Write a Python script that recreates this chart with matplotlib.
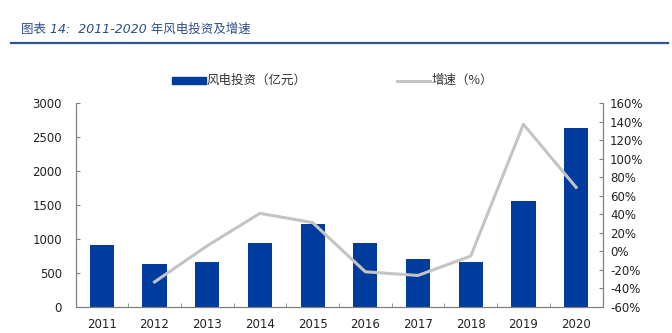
import matplotlib
matplotlib.use("Agg")
import matplotlib.pyplot as plt
from matplotlib.ticker import FuncFormatter, MultipleLocator, FixedLocator
from matplotlib.patches import Rectangle
from matplotlib.lines import Line2D
import numpy as np

plt.rcParams['font.family'] = ['DejaVu Sans', 'Noto Sans CJK SC']

years = ['2011', '2012', '2013', '2014', '2015', '2016', '2017', '2018', '2019', '2020']
investment = [910, 630, 669, 937, 1225, 947, 703, 663, 1557, 2635]
growth_years = ['2012', '2013', '2014', '2015', '2016', '2017', '2018', '2019', '2020']
growth = [-33, 6, 41, 31, -22, -26, -5, 137, 69]

title = '图表 14:  2011-2020 年风电投资及增速'
bar_label = '风电投资（亿元）'
line_label = '增速（%）'

bar_color = '#003C9E'
line_color = '#C4C4C4'
axis_color = '#7F7F7F'

fig = plt.figure(figsize=(6.72, 3.33), dpi=100)
W, H = 672, 333
left, right, bottom, top = 76, 603, 307, 103
ax = fig.add_axes([left / W, 1 - bottom / H, (right - left) / W, (bottom - top) / H])
ax2 = ax.twinx()

x = np.arange(len(years))
ax.bar(x, investment, width=0.46, color=bar_color, zorder=2)
gx = [years.index(y) for y in growth_years]
ax2.plot(gx, growth, color=line_color, lw=2.2, zorder=3)

ax.set_xlim(-0.49, len(years) - 0.49)
ax.set_ylim(0, 3000)
ax.yaxis.set_major_locator(MultipleLocator(500))
ax2.set_ylim(-60, 160)
ax2.yaxis.set_major_locator(MultipleLocator(20))
ax2.yaxis.set_major_formatter(FuncFormatter(lambda v, p: f'{int(round(v))}%'))

ax.set_xticks(x)
ax.set_xticklabels(years)
ax.xaxis.set_minor_locator(FixedLocator(np.arange(len(years) - 1) + 0.5))
ax.tick_params(axis='x', which='major', length=0, labelsize=8.5, pad=8, colors='#222222')
ax.tick_params(axis='x', which='minor', length=3, direction='in', color=axis_color)
ax.tick_params(axis='y', length=3, direction='in', color=axis_color, labelsize=8.5, labelcolor='#222222', pad=10)
ax2.tick_params(axis='y', length=3, direction='in', color=axis_color, labelsize=8.5, labelcolor='#222222', pad=5)

for a in (ax, ax2):
    a.spines['top'].set_visible(False)
    for s in ('left', 'right', 'bottom'):
        a.spines[s].set_color(axis_color)
        a.spines[s].set_linewidth(0.8)

ax.set_zorder(1)
ax2.set_zorder(2)
ax.patch.set_visible(False)

# Legend (manual placement)
fig.patches.append(Rectangle((172 / W, 1 - 84.2 / H), 34 / W, 7.5 / H, transform=fig.transFigure,
                             color=bar_color))
fig.text(207 / W, 1 - 80.5 / H, bar_label, fontsize=9, va='center', ha='left', color='#333333',
         family=['Noto Sans CJK SC'])
fig.lines.append(Line2D([397 / W, 430 / W], [1 - 80.5 / H, 1 - 80.5 / H], transform=fig.transFigure,
                        color=line_color, lw=2.2))
fig.text(432 / W, 1 - 80.5 / H, line_label, fontsize=9, va='center', ha='left', color='#333333',
         family=['Noto Sans CJK SC'])

# Title and rule
fig.text(21 / W, 1 - 29.5 / H, title, fontsize=9, va='center', ha='left', color='#2B4E8C',
         style='italic', family=['DejaVu Sans', 'Noto Sans CJK SC'])
fig.lines.append(Line2D([11 / W, 668 / W], [1 - 43 / H, 1 - 43 / H], transform=fig.transFigure,
                        color='#2B5797', lw=1.6))

fig.savefig('out.png', dpi=100)
